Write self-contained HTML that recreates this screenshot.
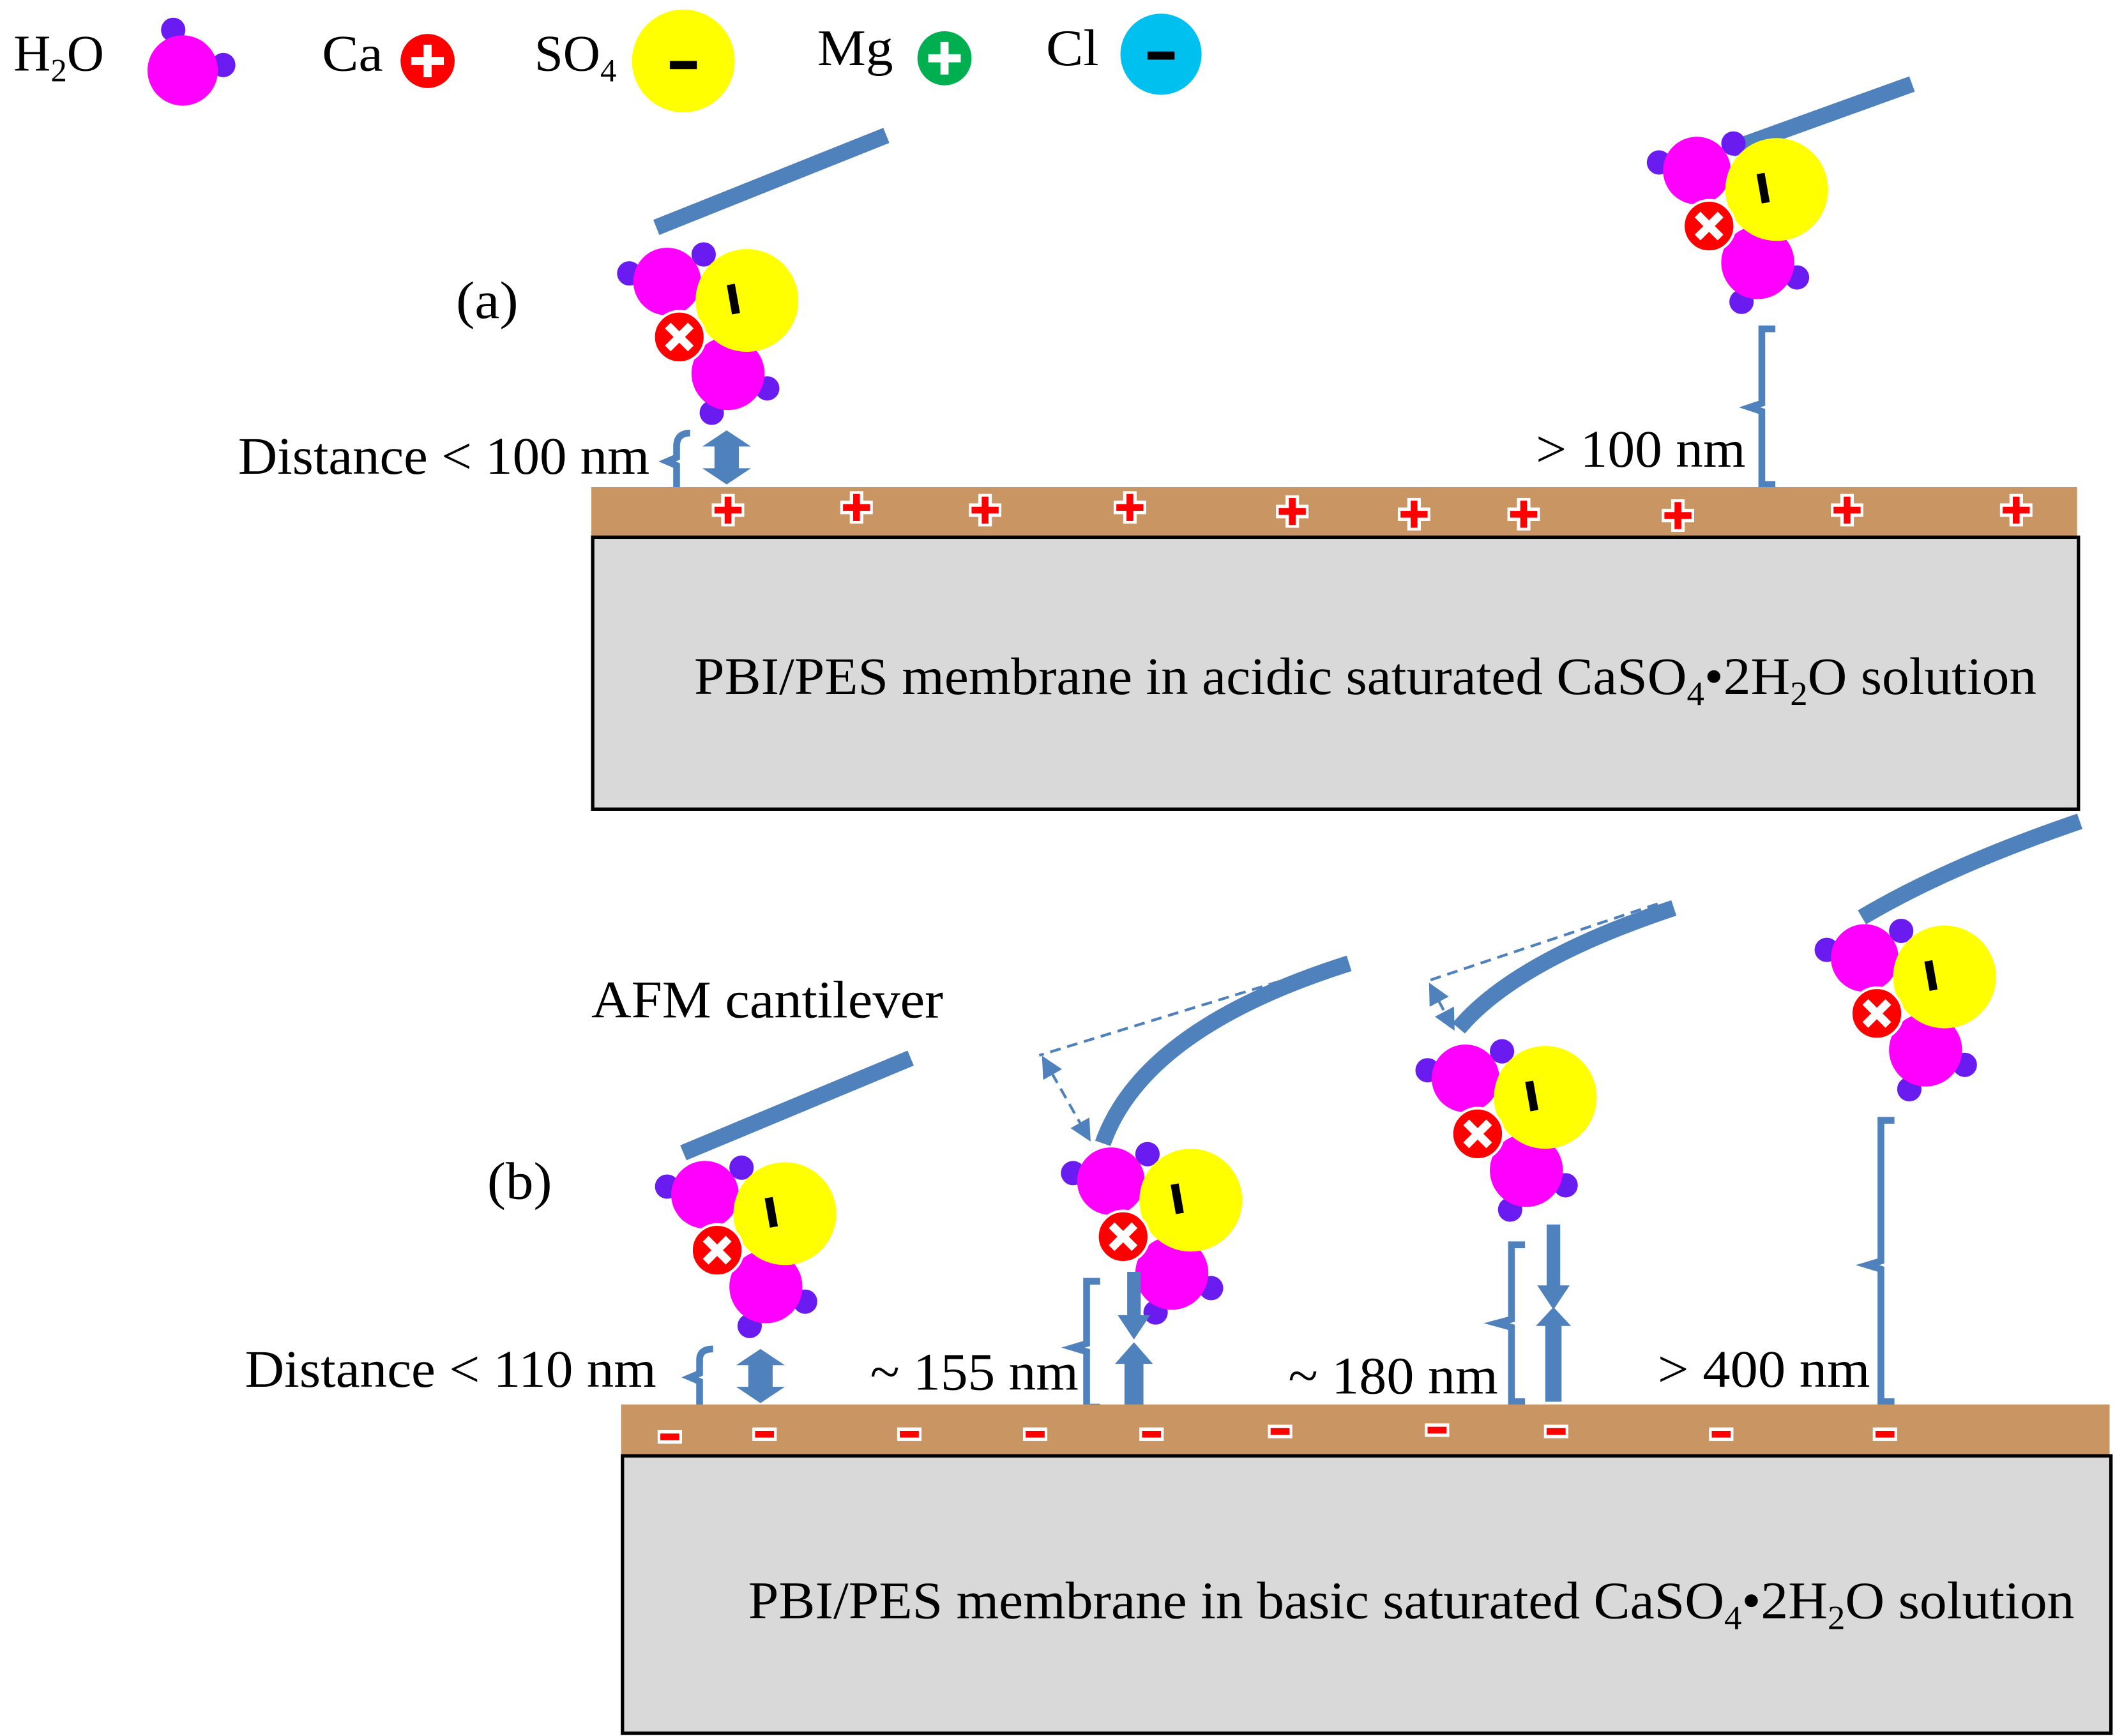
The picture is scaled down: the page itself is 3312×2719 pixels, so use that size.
<!DOCTYPE html>
<html><head><meta charset="utf-8"><style>
html,body{margin:0;padding:0;background:#fff;}
svg{display:block;}
text{font-family:"Liberation Serif",serif;fill:#000;}
</style></head><body>
<svg width="3312" height="2719" viewBox="0 0 1563 1283" xmlns="http://www.w3.org/2000/svg">
<defs>
<g id="mol">
 <circle cx="-87" cy="-20" r="9" fill="#6a1cf0"/>
 <circle cx="-32" cy="-34" r="9" fill="#6a1cf0"/>
 <circle cx="15" cy="65" r="9" fill="#6a1cf0"/>
 <circle cx="-26" cy="83" r="9" fill="#6a1cf0"/>
 <circle cx="-59" cy="-14" r="25" fill="#ff00ff"/>
 <circle cx="-14" cy="54" r="27" fill="#ff00ff"/>
 <circle cx="0" cy="0" r="38" fill="#ffff00"/>
 <rect x="-13" y="-12" width="6" height="22" fill="#000" transform="rotate(-10 -10 -1)"/>
 <circle cx="-50" cy="27" r="19" fill="#ff0000" stroke="#fff" stroke-width="2"/>
 <g transform="translate(-50 27) rotate(45)"><rect x="-12" y="-3" width="24" height="6" fill="#fff"/><rect x="-3" y="-12" width="6" height="24" fill="#fff"/></g>
</g>
<g id="plus"><rect x="-12" y="-5" width="24" height="10" fill="#fff"/><rect x="-5" y="-12" width="10" height="24" fill="#fff"/><rect x="-10" y="-2.5" width="20" height="5" fill="#f00"/><rect x="-2.5" y="-10" width="5" height="20" fill="#f00"/></g>
<g id="minus"><rect x="-9" y="-5" width="18" height="10" fill="#fff"/><rect x="-7" y="-2.5" width="14" height="5" fill="#f00"/></g>
<g id="dbl"><polygon points="0,-20 18,-8 9,-8 9,8 18,8 0,20 -18,8 -9,8 -9,-8 -18,-8" fill="#4f81bd"/></g>
<marker id="ah" markerWidth="8" markerHeight="8" refX="7" refY="4" orient="auto"><path d="M0,0 L8,4 L0,8 z" fill="#4f81bd"/></marker>
<marker id="ah2" markerWidth="8" markerHeight="8" refX="1" refY="4" orient="auto"><path d="M8,0 L0,4 L8,8 z" fill="#4f81bd"/></marker>
</defs>

<!-- legend -->
<text x="10" y="52" font-size="38">H<tspan font-size="24" dy="8">2</tspan><tspan dy="-8">O</tspan></text>
<circle cx="128" cy="22" r="9" fill="#6a1cf0"/><circle cx="165" cy="48" r="9" fill="#6a1cf0"/>
<circle cx="135" cy="52" r="26" fill="#ff00ff"/>
<text x="238" y="52" font-size="38" textLength="45" lengthAdjust="spacingAndGlyphs">Ca</text>
<circle cx="316" cy="45" r="20" fill="#f00"/><rect x="304" y="42" width="24" height="6" fill="#fff"/><rect x="313" y="33" width="6" height="24" fill="#fff"/>
<text x="395" y="52" font-size="38">SO<tspan font-size="24" dy="8">4</tspan></text>
<circle cx="505" cy="45" r="38" fill="#ffff00"/><rect x="495" y="45" width="20" height="6" fill="#000"/>
<text x="604" y="48" font-size="38" textLength="56" lengthAdjust="spacingAndGlyphs">Mg</text>
<circle cx="698" cy="43" r="20" fill="#00b050"/><rect x="686" y="40" width="24" height="6" fill="#fff"/><rect x="695" y="31" width="6" height="24" fill="#fff"/>
<text x="773" y="48" font-size="38" textLength="39" lengthAdjust="spacingAndGlyphs">Cl</text>
<circle cx="858" cy="40" r="30" fill="#00c0f0"/><rect x="848" y="38" width="20" height="6" fill="#000"/>

<!-- (a) -->
<text x="337" y="235" font-size="39" textLength="46" lengthAdjust="spacingAndGlyphs">(a)</text>
<line x1="485" y1="168" x2="655" y2="100" stroke="#4f81bd" stroke-width="12"/>
<use href="#mol" transform="translate(552 222)"/>
<line x1="1280" y1="110" x2="1413" y2="62" stroke="#4f81bd" stroke-width="12"/>
<use href="#mol" transform="translate(1313 140)"/>
<text x="176" y="350" font-size="39" textLength="304" lengthAdjust="spacingAndGlyphs">Distance &lt; 100 nm</text>
<path d="M510,320 Q500,320 500,330 L500,338 L493,341 L500,344 L500,362" fill="none" stroke="#4f81bd" stroke-width="5"/>
<use href="#dbl" transform="translate(537 338)"/>
<text x="1135" y="345" font-size="39" textLength="155" lengthAdjust="spacingAndGlyphs">&gt; 100 nm</text>
<path d="M1312,243 L1302,243 L1302,298 L1293,301 L1302,304 L1302,358 L1312,358" fill="none" stroke="#4f81bd" stroke-width="5"/>
<rect x="437" y="360" width="1098" height="37" fill="#c99563"/>
<rect x="438" y="397" width="1098" height="201" fill="#d9d9d9" stroke="#000" stroke-width="2.5"/>
<g>
<use href="#plus" x="538" y="377"/><use href="#plus" x="633" y="375"/><use href="#plus" x="728" y="377"/><use href="#plus" x="835" y="375"/><use href="#plus" x="955" y="378"/><use href="#plus" x="1045" y="380"/><use href="#plus" x="1126" y="380"/><use href="#plus" x="1240" y="381"/><use href="#plus" x="1365" y="377"/><use href="#plus" x="1490" y="377"/>
</g>
<text x="513" y="513" font-size="39" textLength="992" lengthAdjust="spacingAndGlyphs">PBI/PES membrane in acidic saturated CaSO<tspan font-size="25" dy="8">4</tspan><tspan dy="-8">•2H</tspan><tspan font-size="25" dy="8">2</tspan><tspan dy="-8">O solution</tspan></text>

<!-- (b) -->
<text x="437" y="752" font-size="39" textLength="260" lengthAdjust="spacingAndGlyphs">AFM cantilever</text>
<text x="360" y="886" font-size="39" textLength="48" lengthAdjust="spacingAndGlyphs">(b)</text>
<line x1="505" y1="852" x2="673" y2="782" stroke="#4f81bd" stroke-width="12"/>
<use href="#mol" transform="translate(580 897)"/>
<path d="M815,845 Q845,760 997,712" fill="none" stroke="#4f81bd" stroke-width="12"/>
<line x1="995" y1="710" x2="768" y2="780" stroke="#4f81bd" stroke-width="2" stroke-dasharray="8,5"/>
<line x1="771" y1="782" x2="805" y2="842" stroke="#4f81bd" stroke-width="2" stroke-dasharray="8,5" marker-end="url(#ah)" marker-start="url(#ah2)"/>
<use href="#mol" transform="translate(880 887)"/>
<path d="M1078,760 Q1120,710 1237,671" fill="none" stroke="#4f81bd" stroke-width="12"/>
<line x1="1225" y1="668" x2="1055" y2="725" stroke="#4f81bd" stroke-width="2" stroke-dasharray="8,5"/>
<line x1="1057" y1="728" x2="1074" y2="760" stroke="#4f81bd" stroke-width="2" stroke-dasharray="8,5" marker-end="url(#ah)" marker-start="url(#ah2)"/>
<use href="#mol" transform="translate(1142 811)"/>
<path d="M1376,678 Q1440,640 1537,607" fill="none" stroke="#4f81bd" stroke-width="12"/>
<use href="#mol" transform="translate(1437 722)"/>

<text x="181" y="1025" font-size="39" textLength="304" lengthAdjust="spacingAndGlyphs">Distance &lt; 110 nm</text>
<path d="M527,997 Q517,997 517,1005 L517,1015 L510,1018 L517,1021 L517,1040" fill="none" stroke="#4f81bd" stroke-width="5"/>
<use href="#dbl" transform="translate(562 1017)"/>
<text x="643" y="1027" font-size="39" textLength="154" lengthAdjust="spacingAndGlyphs">~ 155 nm</text>
<path d="M813,947 L803,947 L803,993 L793,996 L803,999 L803,1040 L813,1040" fill="none" stroke="#4f81bd" stroke-width="5"/>
<polygon points="833,940 843,940 843,972 850,972 838,990 826,972 833,972" fill="#4f81bd"/>
<polygon points="838,992 852,1008 845,1008 845,1043 831,1043 831,1008 824,1008" fill="#4f81bd"/>
<text x="952" y="1030" font-size="39" textLength="155" lengthAdjust="spacingAndGlyphs">~ 180 nm</text>
<path d="M1127,920 L1117,920 L1117,975 L1106,978 L1117,981 L1117,1036 L1127,1036" fill="none" stroke="#4f81bd" stroke-width="5"/>
<polygon points="1143,905 1153,905 1153,950 1160,950 1148,968 1136,950 1143,950" fill="#4f81bd"/>
<polygon points="1148,966 1161,980 1154,980 1154,1036 1142,1036 1142,980 1135,980" fill="#4f81bd"/>
<text x="1225" y="1025" font-size="39" textLength="157" lengthAdjust="spacingAndGlyphs">&gt; 400 nm</text>
<path d="M1400,828 L1390,828 L1390,932 L1380,935 L1390,938 L1390,1036 L1400,1036" fill="none" stroke="#4f81bd" stroke-width="5"/>

<rect x="459" y="1038" width="1100" height="38" fill="#c99563"/>
<rect x="460" y="1076" width="1100" height="205" fill="#d9d9d9" stroke="#000" stroke-width="2.5"/>
<g>
<use href="#minus" x="495" y="1062"/><use href="#minus" x="565" y="1060"/><use href="#minus" x="672" y="1060"/><use href="#minus" x="765" y="1060"/><use href="#minus" x="851" y="1060"/><use href="#minus" x="946" y="1058"/><use href="#minus" x="1062" y="1057"/><use href="#minus" x="1150" y="1058"/><use href="#minus" x="1272" y="1060"/><use href="#minus" x="1393" y="1060"/>
</g>
<text x="553" y="1196" font-size="39" textLength="980" lengthAdjust="spacingAndGlyphs">PBI/PES membrane in basic saturated CaSO<tspan font-size="25" dy="8">4</tspan><tspan dy="-8">•2H</tspan><tspan font-size="25" dy="8">2</tspan><tspan dy="-8">O solution</tspan></text>
</svg>
</body></html>
